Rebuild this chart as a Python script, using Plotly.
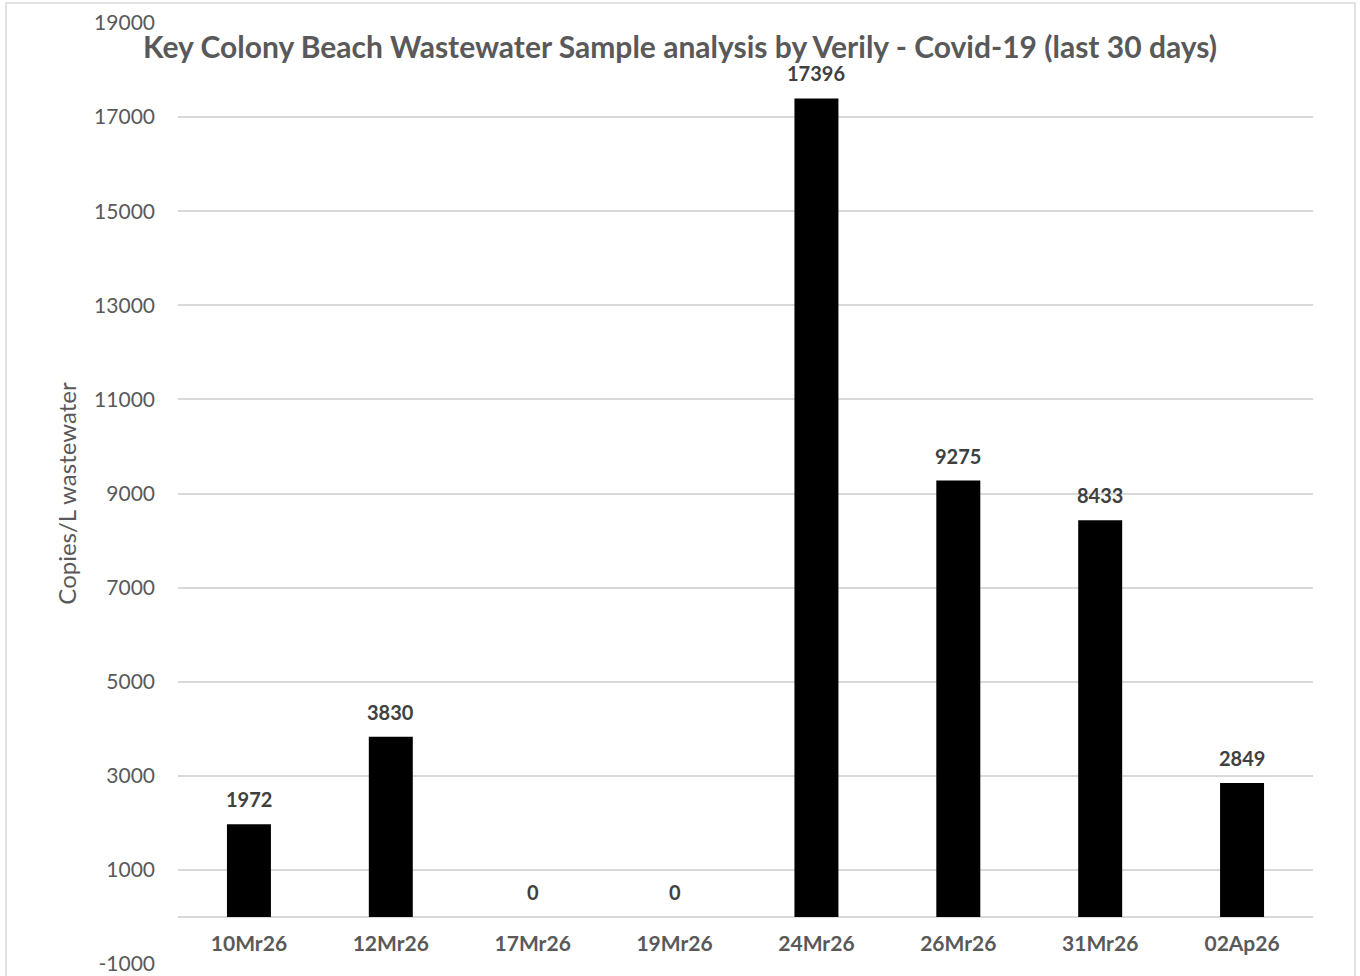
import plotly.graph_objects as go

categories = ["10Mr26", "12Mr26", "17Mr26", "19Mr26", "24Mr26", "26Mr26", "31Mr26", "02Ap26"]
values = [1972, 3830, 0, 0, 17396, 9275, 8433, 2849]
y_ticks = [-1000, 1000, 3000, 5000, 7000, 9000, 11000, 13000, 15000, 17000, 19000]

title_text = "Key Colony Beach Wastewater Sample analysis by Verily - Covid-19 (last 30 days)"
y_title = "Copies/L wastewater"

W, H = 1360, 976
ML, MR, MT, MB = 178, 47, 23, 12
ymin, ymax = -1000, 19000

FONT = "Lato, 'Open Sans', sans-serif"

fig = go.Figure()
fig.add_trace(go.Bar(
    x=categories, y=values,
    marker=dict(color="#000000", line=dict(width=0)),
    width=0.31,
    showlegend=False,
    hoverinfo="x+y",
))

for c, v in zip(categories, values):
    fig.add_annotation(
        x=c, y=v, text=f"<b>{v}</b>", showarrow=False,
        yanchor="bottom", yshift=11,
        font=dict(family=FONT, size=20, color="#404040"),
    )

pw = W - ML - MR
ph = H - MT - MB
# chart border
fig.add_shape(type="rect", xref="paper", yref="paper",
              x0=(6 - ML) / pw, x1=(1355 - ML) / pw,
              y0=(H - MB - 990) / ph, y1=(H - MB - 3) / ph,
              line=dict(color="#d9d9d9", width=1.5), fillcolor="rgba(0,0,0,0)", layer="below")

zero_frac = (0 - ymin) / (ymax - ymin)

fig.update_layout(
    width=W, height=H,
    margin=dict(l=ML, r=MR, t=MT, b=MB, pad=0, autoexpand=False),
    paper_bgcolor="white", plot_bgcolor="white",
    font=dict(family=FONT, color="#595959"),
    title=dict(text=f"<b>{title_text}</b>", x=680 / W, xanchor="center",
               y=1 - 47 / H, yanchor="middle", xref="container", yref="container",
               font=dict(family=FONT, size=30, color="#595959")),
    bargap=0.69,
    xaxis=dict(
        type="category", anchor="free", position=zero_frac,
        showline=False, showgrid=False, zeroline=False, ticks="",
        tickfont=dict(family=FONT, size=21, color="#595959", weight="bold"),
        ticklabelstandoff=12, automargin=False,
        range=[-0.5, len(categories) - 0.5],
    ),
    yaxis=dict(
        range=[ymin, ymax], tickmode="array", tickvals=y_ticks,
        ticktext=[str(t) for t in y_ticks],
        showgrid=True, gridcolor="#d9d9d9", gridwidth=1.5,
        zeroline=True, zerolinecolor="#d9d9d9", zerolinewidth=1.5,
        showline=False, ticks="", automargin=False,
        tickfont=dict(family=FONT, size=21, color="#595959"),
        ticklabelstandoff=22,
        title=dict(text=y_title, font=dict(family=FONT, size=24, color="#595959"), standoff=10),
    ),
)

fig.write_html("out.html", config={"displayModeBar": False},
               post_script="document.body.style.margin='0';document.body.style.overflow='hidden';")
